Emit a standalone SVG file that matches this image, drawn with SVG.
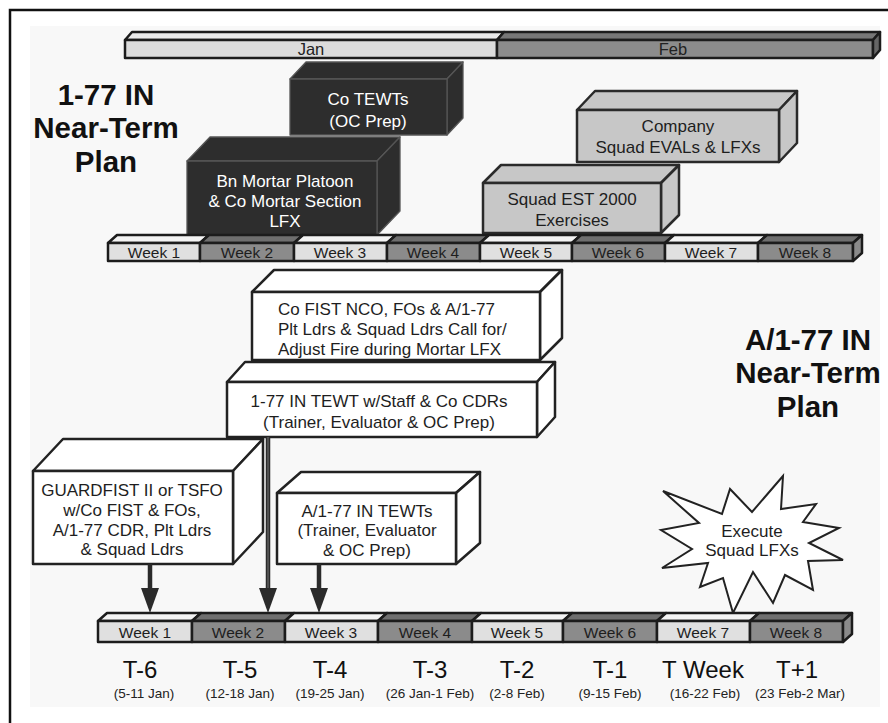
<svg xmlns="http://www.w3.org/2000/svg" width="888" height="723" viewBox="0 0 888 723">
<style>
text{font-family:"Liberation Sans",Arial,sans-serif;fill:#1e1e1e;}
.t{font-size:17px;text-anchor:middle;}
.ts{font-size:17px;text-anchor:start;}
.tw{font-size:17px;text-anchor:middle;fill:#fff;}
.wk{font-size:15.5px;text-anchor:middle;fill:#1e1e1e;}
.mo{font-size:16.5px;text-anchor:middle;fill:#222;}
.title{font-size:29.5px;font-weight:bold;text-anchor:middle;fill:#111;}
.tl{font-size:24px;text-anchor:middle;fill:#111;}
.dt{font-size:13.5px;text-anchor:middle;fill:#222;}
.bar{stroke:#1c1c1c;stroke-width:2.5;stroke-linejoin:round;}
.lf{fill:#e0e0e0;}
.lt{fill:#f3f3f3;}
.df{fill:#8b8b8b;}
.dtp{fill:#6f6f6f;}
.dark{fill:#2d2d2d;stroke:#555;stroke-width:1.3;stroke-linejoin:round;}
.gray{fill:#c7c7c7;stroke:#2a2a2a;stroke-width:2.5;stroke-linejoin:round;}
.white{fill:#fff;stroke:#222;stroke-width:2.5;stroke-linejoin:round;}
.shaft{stroke:#2b2b2b;stroke-width:4.5;fill:none;}
.head{fill:#2b2b2b;}
</style>
<rect x="0" y="0" width="888" height="723" fill="#fff"/>
<rect x="30" y="26" width="850" height="681" fill="#f8f8f8"/>
<path d="M10,723 V10 H888" fill="none" stroke="#111" stroke-width="2.5"/>

<!-- Month bar -->
<g id="month-bar">
  <polygon class="bar" points="125,40 132,32 504,32 497,40" fill="#eaeaea" stroke-width="2"/>
  <polygon class="bar" points="497,40 504,32 880,32 873,40" fill="#777" stroke-width="2"/>
  <rect class="bar" x="125" y="40" width="372" height="18" fill="#dcdcdc" stroke-width="2"/>
  <rect class="bar" x="497" y="40" width="376" height="18" fill="#8c8c8c" stroke-width="2"/>
  <polygon class="bar" points="873,40 880,32 880,50 873,58" fill="#666" stroke-width="2"/>
  <text class="mo" x="311" y="55">Jan</text>
  <text class="mo" x="673" y="55">Feb</text>
</g>

<!-- Titles -->
<g id="title-bn">
  <text class="title" x="106" y="105">1-77 IN</text>
  <text class="title" x="106" y="138">Near-Term</text>
  <text class="title" x="106" y="172">Plan</text>
</g>
<g id="title-co">
  <text class="title" x="808" y="350">A/1-77 IN</text>
  <text class="title" x="808" y="383">Near-Term</text>
  <text class="title" x="808" y="417">Plan</text>
</g>

<!-- Dark boxes -->
<g id="co-tewts">
  <polygon class="dark" points="290,79 306,62 463,62 447,79"/>
  <polygon class="dark" points="447,79 463,62 463,118 447,135"/>
  <rect class="dark" x="290" y="79" width="157" height="56"/>
  <text class="tw" x="368" y="105">Co TEWTs</text>
  <text class="tw" x="368" y="127">(OC Prep)</text>
</g>
<g id="bn-mortar">
  <polygon class="dark" points="187,161 210,137 400,137 377,161"/>
  <polygon class="dark" points="377,161 400,137 400,211 377,235"/>
  <rect class="dark" x="187" y="161" width="190" height="74"/>
  <text class="tw" x="285" y="187">Bn  Mortar Platoon</text>
  <text class="tw" x="285" y="207">&amp; Co Mortar Section</text>
  <text class="tw" x="285" y="227">LFX</text>
</g>

<!-- Gray boxes -->
<g id="company-evals">
  <polygon class="gray" points="577,110 595,91 797,91 779,110"/>
  <polygon class="gray" points="779,110 797,91 797,143 779,162"/>
  <rect class="gray" x="577" y="110" width="202" height="52"/>
  <text class="t" x="678" y="132">Company</text>
  <text class="t" x="678" y="153">Squad EVALs &amp; LFXs</text>
</g>
<g id="squad-est">
  <polygon class="gray" points="483,183 501,165 679,165 661,183"/>
  <polygon class="gray" points="661,183 679,165 679,215 661,233"/>
  <rect class="gray" x="483" y="183" width="178" height="50"/>
  <text class="t" x="572" y="205">Squad EST 2000</text>
  <text class="t" x="572" y="226">Exercises</text>
</g>

<!-- Top week bar -->
<g id="week-bar-top">
  <polygon class="bar lt" points="108,243 117,235 209,235 200,243"/>
  <polygon class="bar dtp" points="200,243 209,235 303,235 294,243"/>
  <polygon class="bar lt" points="294,243 303,235 396,235 387,243"/>
  <polygon class="bar dtp" points="387,243 396,235 489,235 480,243"/>
  <polygon class="bar lt" points="480,243 489,235 581,235 572,243"/>
  <polygon class="bar dtp" points="572,243 581,235 674,235 665,243"/>
  <polygon class="bar lt" points="665,243 674,235 767,235 758,243"/>
  <polygon class="bar dtp" points="758,243 767,235 862,235 853,243"/>
  <rect class="bar lf" x="108" y="243" width="92" height="18"/>
  <rect class="bar df" x="200" y="243" width="94" height="18"/>
  <rect class="bar lf" x="294" y="243" width="93" height="18"/>
  <rect class="bar df" x="387" y="243" width="93" height="18"/>
  <rect class="bar lf" x="480" y="243" width="92" height="18"/>
  <rect class="bar df" x="572" y="243" width="93" height="18"/>
  <rect class="bar lf" x="665" y="243" width="93" height="18"/>
  <rect class="bar df" x="758" y="243" width="95" height="18"/>
  <polygon class="bar" points="853,243 862,235 862,253 853,261" fill="#8a8a8a"/>
  <text class="wk" x="154" y="258">Week 1</text>
  <text class="wk" x="247" y="258">Week 2</text>
  <text class="wk" x="340" y="258">Week 3</text>
  <text class="wk" x="433" y="258">Week 4</text>
  <text class="wk" x="526" y="258">Week 5</text>
  <text class="wk" x="618" y="258">Week 6</text>
  <text class="wk" x="711" y="258">Week 7</text>
  <text class="wk" x="805" y="258">Week 8</text>
</g>

<!-- White boxes -->
<g id="co-fist-nco">
  <polygon class="white" points="252,292 274,270 562,270 540,292"/>
  <polygon class="white" points="540,292 562,270 562,338 540,360"/>
  <rect class="white" x="252" y="292" width="288" height="68"/>
  <text class="ts" x="278" y="315">Co FIST NCO, FOs &amp; A/1-77</text>
  <text class="ts" x="278" y="335">Plt Ldrs &amp; Squad Ldrs Call for/</text>
  <text class="ts" x="278" y="355">Adjust Fire during Mortar LFX</text>
</g>
<g id="bn-tewt">
  <polygon class="white" points="227,382 245,362 555,362 537,382"/>
  <polygon class="white" points="537,382 555,362 555,417 537,437"/>
  <rect class="white" x="227" y="382" width="310" height="55"/>
  <text class="t" x="379" y="407">1-77 IN TEWT w/Staff &amp; Co CDRs</text>
  <text class="t" x="379" y="428">(Trainer, Evaluator &amp; OC Prep)</text>
</g>
<g id="guardfist">
  <polygon class="white" points="33,471 63,439 263,439 233,471"/>
  <polygon class="white" points="233,471 263,439 263,532 233,564"/>
  <rect class="white" x="33" y="471" width="200" height="93"/>
  <text class="t" x="132" y="496">GUARDFIST II or TSFO</text>
  <text class="t" x="132" y="516">w/Co FIST &amp; FOs,</text>
  <text class="t" x="132" y="536">A/1-77 CDR, Plt Ldrs</text>
  <text class="t" x="132" y="555">&amp; Squad Ldrs</text>
</g>
<g id="a177-tewts">
  <polygon class="white" points="277,493 301,472 480,472 456,493"/>
  <polygon class="white" points="456,493 480,472 480,543 456,564"/>
  <rect class="white" x="277" y="493" width="179" height="71"/>
  <text class="t" x="367" y="517">A/1-77 IN TEWTs</text>
  <text class="t" x="367" y="536">(Trainer, Evaluator</text>
  <text class="t" x="367" y="556">&amp; OC Prep)</text>
</g>

<!-- Starburst -->
<g id="execute">
  <polygon points="663,491 722,514 730,489 752,512 783,476 781,509 816,504 803,522 839,528 809,543 843,560 808,561 813,590 785,575 773,603 753,572 733,613 723,578 700,587 708,563 662,568 692,549 661,530 699,523" fill="#fff" stroke="#222" stroke-width="2" stroke-linejoin="miter"/>
  <text class="t" x="752" y="537">Execute</text>
  <text class="t" x="752" y="556">Squad LFXs</text>
</g>

<!-- Connectors -->
<g id="connectors">
  <line class="shaft" x1="150" y1="564" x2="150" y2="592"/>
  <polygon class="head" points="141,588 159,588 150,613"/>
  <line class="shaft" x1="268" y1="437" x2="268" y2="592"/>
  <line x1="268" y1="437" x2="268" y2="588" stroke="#777" stroke-width="1"/>
  <polygon class="head" points="259,588 277,588 268,613"/>
  <line class="shaft" x1="319" y1="564" x2="319" y2="592"/>
  <polygon class="head" points="310,588 328,588 319,613"/>
</g>

<!-- Bottom week bar -->
<g id="week-bar-bottom">
  <polygon class="bar lt" points="98,621 107,613 201,613 192,621"/>
  <polygon class="bar dtp" points="192,621 201,613 294,613 285,621"/>
  <polygon class="bar lt" points="285,621 294,613 387,613 378,621"/>
  <polygon class="bar dtp" points="378,621 387,613 481,613 472,621"/>
  <polygon class="bar lt" points="472,621 481,613 572,613 563,621"/>
  <polygon class="bar dtp" points="563,621 572,613 666,613 657,621"/>
  <polygon class="bar lt" points="657,621 666,613 759,613 750,621"/>
  <polygon class="bar dtp" points="750,621 759,613 852,613 843,621"/>
  <rect class="bar lf" x="98" y="621" width="94" height="21"/>
  <rect class="bar df" x="192" y="621" width="93" height="21"/>
  <rect class="bar lf" x="285" y="621" width="93" height="21"/>
  <rect class="bar df" x="378" y="621" width="94" height="21"/>
  <rect class="bar lf" x="472" y="621" width="91" height="21"/>
  <rect class="bar df" x="563" y="621" width="94" height="21"/>
  <rect class="bar lf" x="657" y="621" width="93" height="21"/>
  <rect class="bar df" x="750" y="621" width="93" height="21"/>
  <polygon class="bar" points="843,621 852,613 852,634 843,642" fill="#8a8a8a"/>
  <text class="wk" x="145" y="638">Week 1</text>
  <text class="wk" x="238" y="638">Week 2</text>
  <text class="wk" x="331" y="638">Week 3</text>
  <text class="wk" x="425" y="638">Week 4</text>
  <text class="wk" x="517" y="638">Week 5</text>
  <text class="wk" x="610" y="638">Week 6</text>
  <text class="wk" x="703" y="638">Week 7</text>
  <text class="wk" x="796" y="638">Week 8</text>
</g>

<g id="week-labels">
  <text class="tl" x="140" y="678">T-6</text>
  <text class="tl" x="240" y="678">T-5</text>
  <text class="tl" x="330" y="678">T-4</text>
  <text class="tl" x="430" y="678">T-3</text>
  <text class="tl" x="517" y="678">T-2</text>
  <text class="tl" x="610" y="678">T-1</text>
  <text class="tl" x="703" y="678">T Week</text>
  <text class="tl" x="797" y="678">T+1</text>
  <text class="dt" x="144" y="698">(5-11 Jan)</text>
  <text class="dt" x="240" y="698">(12-18 Jan)</text>
  <text class="dt" x="330" y="698">(19-25 Jan)</text>
  <text class="dt" x="430" y="698">(26 Jan-1 Feb)</text>
  <text class="dt" x="517" y="698">(2-8 Feb)</text>
  <text class="dt" x="610" y="698">(9-15 Feb)</text>
  <text class="dt" x="705" y="698">(16-22 Feb)</text>
  <text class="dt" x="800" y="698">(23 Feb-2 Mar)</text>
</g>
</svg>
